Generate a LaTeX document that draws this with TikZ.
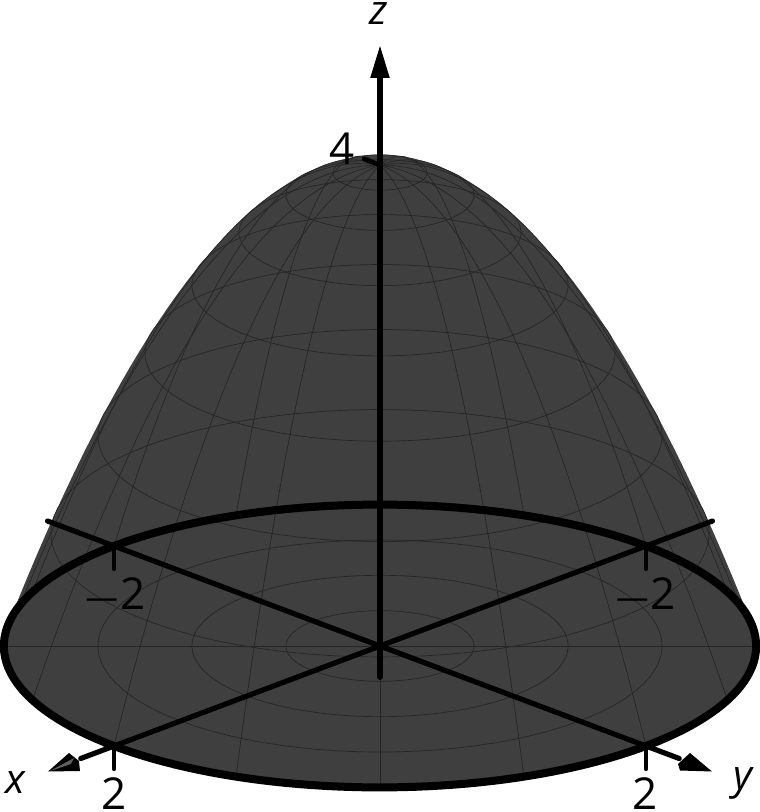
\documentclass[tikz,border=0pt]{standalone}
\usepackage{graphicx}
\usepackage{fontspec}
\setmainfont{Open Sans}
\usetikzlibrary{arrows.meta}
\definecolor{surf}{HTML}{3F3F3F}
\definecolor{meshc}{HTML}{262626}
\newcommand{\negsign}{\raisebox{-3pt}{\scalebox{1.45}[.8]{−}}}
\tikzstyle{mesh}  = [meshc,line width=.7pt]
\tikzstyle{axis}  = [black,line width=5.2pt]
\tikzstyle{tick}  = [black,line width=4.6pt,line cap=round]
\tikzstyle{lab}   = [inner sep=0,font=\fontsize{44}{44}\selectfont]
\tikzstyle{alab}  = [inner sep=0,font=\fontsize{41}{41}\selectfont\itshape]

\begin{document}
\begin{tikzpicture}[x={(-133pt,-50pt)},y={(133pt,-50pt)},z={(0pt,120.25pt)}]
    \useasboundingbox (-380pt,-166pt) rectangle (380pt,646pt);

    % Surface outline and base rim
    \fill[surf] plot[variable=\v,domain=-1.979:1.979,samples=80]
            ({(-.294-\v)/sqrt(2)},{(-.294+\v)/sqrt(2)},{4-.294*.294-\v*\v})
        -- plot[variable=\t,domain=143.4:-53.4,samples=120] ({2*cos(\t)},{2*sin(\t)},0) -- cycle;

    % Rings of the surface
    \foreach \rad in {.25,.5,...,1.76}
        \draw[mesh] plot[variable=\t,domain=0:360,samples=90] ({\rad*cos(\t)},{\rad*sin(\t)},{4-\rad*\rad});
    % Meridians of the surface
    \foreach \ang in {0,22.5,...,337.5}
        \draw[mesh] plot[variable=\s,domain=0:2,samples=30] ({\s*cos(\ang)},{\s*sin(\ang)},{4-\s*\s});
    % Rings and spokes of the base
    \foreach \rad in {.5,1,1.5}
        \draw[mesh] plot[variable=\t,domain=0:360,samples=90] ({\rad*cos(\t)},{\rad*sin(\t)},0);
    \foreach \ang in {0,45,...,315}
        \draw[mesh] (0,0,0) -- ({2*cos(\ang)},{2*sin(\ang)},0);

    % Axis ends
    \coordinate (O) at (0,0,0);
    \coordinate (zlow) at (0,0,-.26);
    \coordinate (ztop) at (0pt,601pt);
    \coordinate (xback) at (-2.5,0,0);
    \coordinate (xfront) at (2.25,0,0);
    \coordinate (yback) at (0,-2.5,0);
    \coordinate (yfront) at (0,2.25,0);

    % Axes
    \draw[axis,line cap=round] (zlow) -- (O);
    \draw[axis,-{Triangle[length=33pt,width=18pt]}] (O) -- (ztop);
    \draw[axis,line cap=round] (xback) -- (xfront);
    \draw[axis,line cap=round] (yback) -- (yfront);
    % x head, with its light streak
    \fill[black] (-332pt,-125.5pt) -- (-311pt,-107pt) -- (-301pt,-115pt) -- (-300pt,-125pt) -- cycle;
    \fill[gray!75!black] (-330pt,-125pt) -- (-306pt,-112pt) -- (-309pt,-118pt) -- cycle;
    % y head
    \fill[black] (332pt,-125.5pt) -- (310pt,-107pt) -- (298pt,-118pt) -- (300pt,-124.5pt) -- cycle;

    % Base rim
    \draw[black,line width=8pt] plot[variable=\t,domain=0:360,samples=180] ({2*cos(\t)},{2*sin(\t)},0) -- cycle;

    % Ticks
    \coordinate (xtick) at (2,0,0);
    \coordinate (xtickend) at (2,0,-.19);
    \coordinate (ytick) at (0,2,0);
    \coordinate (ytickend) at (0,2,-.19);
    \coordinate (xntick) at (-2,0,0);
    \coordinate (xntickend) at (-2,0,-.19);
    \coordinate (yntick) at (0,-2,0);
    \coordinate (yntickend) at (0,-2,-.19);
    \coordinate (ztick) at (0,0,4);
    \coordinate (ztickend) at (0,-.12,4);
    \draw[tick] (xtick) -- (xtickend);
    \draw[tick] (ytick) -- (ytickend);
    \draw[tick] (xntick) -- (xntickend);
    \draw[tick] (yntick) -- (yntickend);
    \draw[tick] (ztick) -- (ztickend);

    % Labels
    \node[alab] (zlab) at (-1pt,632pt) {z};
    \node[alab] (xlab) at (-365pt,-137pt) {x};
    \node[alab] (ylab) at (363pt,-137pt) {y};
    \node[lab] (four) at (-38pt,497pt) {4};
    \node[lab] (xtwo) at (-266pt,-148pt) {2};
    \node[lab] (ytwo) at (265pt,-148pt) {2};
    \node[lab] (yntwo) at (-265.5pt,51pt) {\negsign2};
    \node[lab] (xntwo) at (265pt,51pt) {\negsign2};
\end{tikzpicture}
\end{document}
